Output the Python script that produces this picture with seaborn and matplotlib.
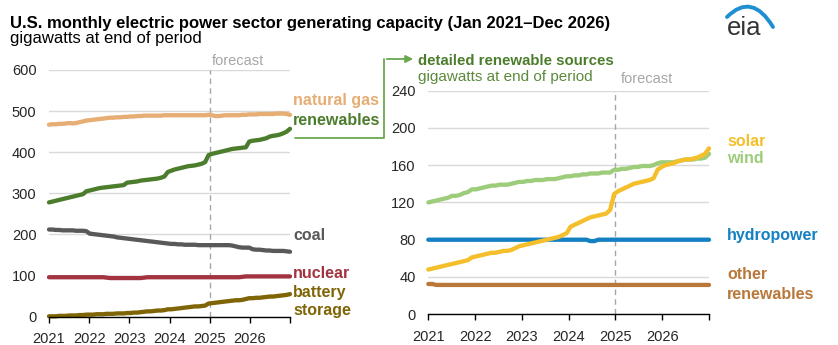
import numpy as np
import pandas as pd
import matplotlib
matplotlib.use("Agg")
import matplotlib.pyplot as plt
import seaborn as sns
from matplotlib.lines import Line2D
from matplotlib.patches import FancyArrowPatch, PathPatch
from matplotlib.path import Path

# ---------------- data (GW, monthly Jan 2021 - Dec 2026) ----------------
years = [2021, 2022, 2023, 2024, 2025, 2026]
year_labels = ["2021", "2022", "2023", "2024", "2025", "2026", ""]

natural_gas = [467, 468, 468, 469, 469, 470, 471, 470, 471, 473, 475, 477,
               478, 479, 480, 481, 482, 483, 484, 484, 485, 485, 486, 486,
               487, 487, 488, 488, 489, 489, 489, 489, 489, 489, 490, 490,
               490, 490, 490, 490, 490, 490, 490, 490, 490, 490, 490, 491,
               490, 488, 488, 489, 490, 490, 490, 490, 490, 491, 491, 492,
               492, 492, 493, 493, 493, 493, 493, 494, 494, 494, 493, 491]
renewables = [278, 280, 282, 284, 286, 288, 290, 292, 294, 296, 298, 305,
              307, 309, 311, 313, 314, 315, 316, 317, 318, 319, 320, 326,
              327, 328, 329, 331, 332, 333, 334, 335, 336, 338, 341, 352,
              355, 358, 360, 362, 364, 366, 367, 368, 370, 372, 376, 393,
              396, 398, 400, 402, 404, 406, 408, 409, 410, 411, 412, 426,
              428, 429, 430, 432, 434, 438, 440, 441, 443, 446, 450, 457]
coal = [212, 212, 211, 211, 210, 210, 210, 210, 209, 209, 209, 208,
        202, 201, 200, 199, 198, 197, 196, 195, 193, 192, 191, 190,
        189, 188, 187, 186, 185, 184, 183, 182, 181, 180, 179, 178,
        177, 177, 176, 176, 175, 175, 175, 175, 174, 174, 174, 174,
        174, 174, 174, 174, 174, 174, 173, 171, 169, 168, 168, 168,
        164, 163, 163, 162, 161, 161, 160, 160, 160, 160, 159, 158]
nuclear = [96, 96, 96, 96, 96, 96, 96, 96, 96, 96, 96, 96,
           96, 96, 96, 96, 96, 95, 94, 94, 94, 94, 94, 94,
           94, 94, 94, 94, 95, 96, 96, 96, 96, 96, 96, 96,
           96, 96, 96, 96, 96, 96, 96, 96, 96, 96, 96, 96,
           96, 96, 96, 96, 96, 96, 96, 96, 96, 97, 98, 98,
           98, 98, 98, 98, 98, 98, 98, 98, 98, 98, 98, 98]
battery = [1, 1, 1, 2, 2, 2, 3, 3, 3, 4, 4, 5,
           5, 5, 6, 6, 6, 7, 7, 7, 8, 8, 8, 9,
           9, 10, 10, 11, 12, 13, 13, 14, 15, 15, 16, 18,
           18, 19, 20, 21, 22, 23, 24, 25, 25, 26, 27, 32,
           33, 34, 35, 36, 37, 38, 39, 40, 40, 41, 43, 45,
           45, 46, 46, 47, 48, 49, 49, 50, 51, 52, 53, 55]

solar = [48, 49, 50, 51, 52, 53, 54, 55, 56, 57, 58, 61,
         62, 63, 64, 65, 66, 66, 67, 68, 68, 69, 71, 73,
         74, 75, 76, 77, 78, 79, 80, 81, 82, 83, 85, 87,
         94, 96, 98, 100, 102, 104, 105, 106, 107, 108, 112, 129,
         132, 134, 136, 138, 140, 141, 142, 143, 144, 146, 155, 158,
         160, 161, 162, 164, 165, 166, 166, 167, 168, 170, 172, 178]
wind = [120, 121, 122, 123, 124, 125, 127, 127, 128, 130, 131, 134,
        134, 135, 136, 137, 138, 138, 139, 139, 139, 140, 141, 142,
        142, 143, 143, 144, 144, 144, 145, 145, 145, 146, 147, 148,
        148, 149, 149, 150, 150, 151, 151, 151, 152, 152, 152, 155,
        155, 156, 156, 157, 158, 158, 159, 159, 159, 160, 162, 163,
        163, 163, 163, 164, 165, 166, 166, 166, 167, 167, 168, 172]
hydropower = [80] * 12 + [80] * 12 + [80] * 12 + \
             [80, 80, 80, 80, 80, 78.5, 78.5, 80, 80, 80, 80, 80] + \
             [80] * 12 + [80] * 12
other_renewables = [32.5, 32.5] + [31.5] * 70

# ---------------- style ----------------
sns.set_theme(style="white")
plt.rcParams['font.family'] = ['Liberation Sans', 'DejaVu Sans']

W, H = 838, 345
fig = plt.figure(figsize=(W / 100, H / 100), dpi=100)

n = len(natural_gas)
xpos = 2021 + np.arange(n) * 6.0 / (n - 1)

C_GAS = "#E6AD74"
C_REN = "#4C7D2C"
C_COAL = "#595959"
C_NUC = "#A33340"
C_BAT = "#7F6505"
C_SOLAR = "#F4BF2A"
C_WIND = "#9DCD7B"
C_HYDRO = "#1380C2"
C_OTHER = "#B9783A"
GRID = "#D9D9D9"
FC = "#A6A6A6"


def fx(px):
    return px / W


def fy(py):
    return 1 - py / H


def style_axes(ax, ymax, ystep):
    ax.set_xlim(2021, 2027)
    ax.set_ylim(0, ymax)
    ax.set_yticks(np.arange(0, ymax + 1, ystep))
    ax.set_xticks(list(range(2021, 2028)))
    ax.set_xticklabels(year_labels)
    ax.yaxis.grid(True, color=GRID, lw=1)
    ax.xaxis.grid(False)
    for s in ["top", "right", "left"]:
        ax.spines[s].set_visible(False)
    ax.spines["bottom"].set_color("black")
    ax.spines["bottom"].set_linewidth(1)
    ax.spines["bottom"].set_zorder(5)
    ax.tick_params(axis="x", direction="out", length=4.5, width=1, color="black",
                   labelsize=10.5, pad=6.5, bottom=True)
    ax.tick_params(axis="y", length=0, labelsize=10.5, pad=9)
    ax.set_xlabel("")
    ax.set_ylabel("")
    ax.set_facecolor("none")
    ax.axvline(2025, color=FC, lw=1, ls=(0, (4, 3)), zorder=1)


# ---------------- left panel ----------------
axL = fig.add_axes([fx(49), fy(316.7), fx(290) - fx(49), fy(70) - fy(316.7)])
left_df = pd.DataFrame({"x": xpos, "natural gas": natural_gas, "renewables": renewables,
                        "coal": coal, "nuclear": nuclear, "battery storage": battery})
for name, col in [("natural gas", C_GAS), ("renewables", C_REN), ("coal", C_COAL),
                  ("nuclear", C_NUC), ("battery storage", C_BAT)]:
    sns.lineplot(data=left_df, x="x", y=name, ax=axL, color=col, lw=3.1,
                 clip_on=False, zorder=3)
style_axes(axL, 600, 100)

# ---------------- right panel ----------------
axR = fig.add_axes([fx(428.3), fy(314.3), fx(709) - fx(428.3), fy(90.5) - fy(314.3)])
right_df = pd.DataFrame({"x": xpos, "solar": solar, "wind": wind,
                         "hydropower": hydropower, "other": other_renewables})
for name, col in [("other", C_OTHER), ("hydropower", C_HYDRO), ("wind", C_WIND),
                  ("solar", C_SOLAR)]:
    sns.lineplot(data=right_df, x="x", y=name, ax=axR, color=col, lw=3.1,
                 clip_on=False, zorder=3)
style_axes(axR, 240, 40)

# ---------------- text ----------------
fig.text(fx(10), fy(28), "U.S. monthly electric power sector generating capacity (Jan 2021\u2013Dec 2026)",
         fontsize=12, weight="bold", color="black", va="baseline")
fig.text(fx(10), fy(43.5), "gigawatts at end of period", fontsize=12, color="black", va="baseline")

fig.text(fx(211.7), fy(65), "forecast", fontsize=10.5, color=FC, va="baseline")
fig.text(fx(620.7), fy(83), "forecast", fontsize=10.5, color=FC, va="baseline")

lab = dict(fontsize=11.5, weight="bold", va="baseline")
fig.text(fx(293), fy(105.3), "natural gas", color=C_GAS, **lab)
fig.text(fx(293), fy(125), "renewables", color=C_REN, **lab)
fig.text(fx(293), fy(240), "coal", color=C_COAL, **lab)
fig.text(fx(293), fy(278), "nuclear", color=C_NUC, **lab)
fig.text(fx(293), fy(297.5), "battery", color=C_BAT, **lab)
fig.text(fx(293), fy(315.5), "storage", color=C_BAT, **lab)

fig.text(fx(727), fy(146), "solar", color=C_SOLAR, **lab)
fig.text(fx(727), fy(163.5), "wind", color=C_WIND, **lab)
fig.text(fx(727), fy(240), "hydropower", color=C_HYDRO, **lab)
fig.text(fx(727), fy(279), "other", color=C_OTHER, **lab)
fig.text(fx(727), fy(299), "renewables", color=C_OTHER, **lab)

fig.text(fx(418), fy(65), "detailed renewable sources", color=C_REN,
         fontsize=10.8, weight="bold", va="baseline")
fig.text(fx(418), fy(81.5), "gigawatts at end of period", fontsize=11, color="#5B8A3C", va="baseline")

# connector arrow
CONN = "#6AA84F"
fig.add_artist(Line2D([fx(295), fx(384), fx(384)], [fy(138.3), fy(138.3), fy(59)],
                      transform=fig.transFigure, color=CONN, lw=1.3))
fig.add_artist(FancyArrowPatch((fx(384), fy(59)), (fx(416), fy(59)), transform=fig.transFigure,
                               arrowstyle="-|>", mutation_scale=11, color=CONN, lw=1.3))

# eia logo
fig.text(fx(727), fy(35), "eia", fontsize=18.5, color="#333333", va="baseline", weight="medium")
arc = Path([(fx(727), fy(17)), (fx(752), fy(-8)), (fx(773), fy(27))],
           [Path.MOVETO, Path.CURVE3, Path.CURVE3])
fig.add_artist(PathPatch(arc, transform=fig.transFigure, fill=False, lw=2.8,
                         edgecolor="#1E8FD2", capstyle="round"))

fig.savefig("out.png", dpi=100)
